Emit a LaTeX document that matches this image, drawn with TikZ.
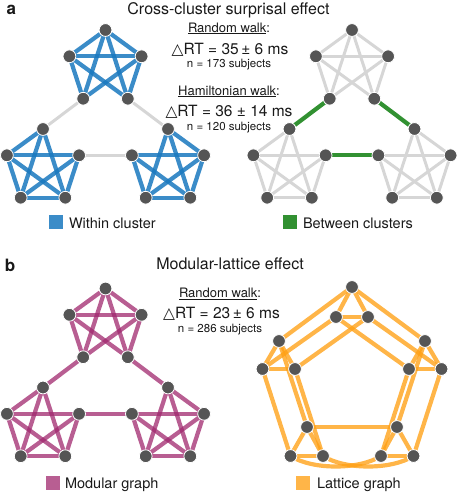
\documentclass[tikz,border=0pt]{standalone}
\usepackage{fontspec}
\setmainfont{TeX Gyre Heros}
\newfontfamily\symfont{DejaVu Sans}
\pgfdeclarelayer{edgelayer}
\pgfsetlayers{edgelayer,main}
\definecolor{cblue}{RGB}{25,120,190}
\definecolor{cgreen}{RGB}{50,145,50}
\definecolor{cgray}{RGB}{214,214,214}
\definecolor{cmag}{RGB}{160,40,110}
\definecolor{corange}{RGB}{255,160,20}
\definecolor{cnode}{RGB}{85,85,85}
\definecolor{ctext}{RGB}{25,25,25}
\newcommand{\fsz}[1]{\fontsize{#1}{#1}\selectfont}
\newcommand{\mkModular}[3]{%
  \node[vtx] (#1T)  at (105.5,30) {};
  \node[vtx] (#1UL) at (69.4,56.3) {};
  \node[vtx] (#1UR) at (141.6,56.3) {};
  \node[vtx] (#1LL) at (83.2,98.7) {};
  \node[vtx] (#1LR) at (127.8,98.7) {};
  \node[vtx] (#1aT)  at (43,129) {};
  \node[vtx] (#1aL)  at (6.9,155.3) {};
  \node[vtx] (#1aR)  at (79.1,155.3) {};
  \node[vtx] (#1aBL) at (20.7,197.7) {};
  \node[vtx] (#1aBR) at (65.3,197.7) {};
  \node[vtx] (#1bT)  at (168,129) {};
  \node[vtx] (#1bL)  at (131.9,155.3) {};
  \node[vtx] (#1bR)  at (204.1,155.3) {};
  \node[vtx] (#1bBL) at (145.7,197.7) {};
  \node[vtx] (#1bBR) at (190.3,197.7) {};
  \begin{pgfonlayer}{edgelayer}
    \foreach \p/\q in {T/UL,T/UR,T/LL,T/LR,UL/UR,UL/LL,UL/LR,UR/LL,UR/LR,
      aT/aL,aT/aBL,aT/aBR,aL/aR,aL/aBL,aL/aBR,aR/aBL,aR/aBR,aBL/aBR,
      bT/bR,bT/bBL,bT/bBR,bL/bR,bL/bBL,bL/bBR,bR/bBL,bR/bBR,bBL/bBR}
      \draw[#2] (#1\p.center) -- (#1\q.center);
    \foreach \p/\q in {LL/aT,LR/bT,aR/bL}
      \draw[#3] (#1\p.center) -- (#1\q.center);
  \end{pgfonlayer}
}
\tikzset{
  vtx/.style={circle,fill=cnode,draw=white,line width=0.8pt,minimum size=12.8pt,inner sep=0pt},
  blueedge/.style={draw=cblue,line width=4.2pt,opacity=.85},
  grayedge/.style={draw=cgray,line width=3pt},
  greenedge/.style={draw=cgreen,line width=4.2pt},
  magedge/.style={draw=cmag,line width=4.2pt,opacity=.75},
  orangeedge/.style={draw=corange,line width=4.2pt,opacity=.78},
  txt/.style={inner sep=0pt,outer sep=0pt,text=ctext,anchor=base},
  legtxt/.style={inner sep=0pt,outer sep=0pt,text=ctext,anchor=base west,font=\fsz{14.5}},
}
\begin{document}
\begin{tikzpicture}[x=1pt,y=-1pt]
\useasboundingbox (0,0) rectangle (457,493);
% ---------- panel a ----------
\node[txt,anchor=base west,font=\bfseries\fsz{17}] (la) at (6.5,14.5) {a};
\node[txt,font=\fsz{16}] (ta) at (228.5,14.5) {Cross-cluster surprisal effect};
\node[txt,font=\fsz{13}] (rw1) at (229,32) {\underline{Random walk}:};
\node[txt,font=\fsz{15.5}] (dr1) at (230,54) {{\symfont △}RT = 35\,±~6 ms};
\node[txt,font=\fsz{11.5}] (n1) at (229,67.5) {n = 173 subjects};
\node[txt,font=\fsz{13}] (hw) at (229,95) {\underline{Hamiltonian walk}:};
\node[txt,font=\fsz{15.5}] (dr2) at (229,116) {{\symfont △}RT = 36 ± 14 ms};
\node[txt,font=\fsz{11.5}] (n2) at (229,130) {n = 120 subjects};

\mkModular{A}{blueedge}{grayedge}
\begin{scope}[shift={(246.5,0)}]
\mkModular{B}{grayedge}{greenedge}
\end{scope}

\fill[cblue,opacity=.85] (49,215) rectangle (63,229);
\node[legtxt] (lw) at (69,228) {Within cluster};
\fill[cgreen] (283,215) rectangle (297,229);
\node[legtxt] (lb) at (303,228) {Between clusters};

% ---------- panel b ----------
\node[txt,anchor=base west,font=\bfseries\fsz{17}] (lbb) at (5,271.5) {b};
\node[txt,font=\fsz{16}] (tb) at (230,269) {Modular-lattice effect};
\node[txt,font=\fsz{13}] (rw3) at (220,297.5) {\underline{Random walk}:};
\node[txt,font=\fsz{15.5}] (dr3) at (221.5,318) {{\symfont △}RT = 23\,±~6 ms};
\node[txt,font=\fsz{11.5}] (n3) at (220,332) {n = 286 subjects};

\begin{scope}[shift={(0,258.5)}]
\mkModular{C}{magedge}{magedge}
\end{scope}

% lattice graph
\node[vtx] (To)  at (352,287) {};
\node[vtx] (Ti1) at (336,317) {};
\node[vtx] (Ti2) at (368,317) {};
\node[vtx] (ULo) at (279,341) {};
\node[vtx] (Lo)  at (262.5,369) {};
\node[vtx] (Li)  at (295,369) {};
\node[vtx] (URo) at (425,341) {};
\node[vtx] (Ro)  at (441.5,369) {};
\node[vtx] (Ri)  at (409,369) {};
\node[vtx] (LLi) at (307,427) {};
\node[vtx] (BLo) at (290.5,456) {};
\node[vtx] (BLi) at (323,456) {};
\node[vtx] (LRi) at (397,427) {};
\node[vtx] (BRi) at (381,456) {};
\node[vtx] (BRo) at (413.5,456) {};
\begin{pgfonlayer}{edgelayer}
\foreach \p/\q in {To/Ti1,To/Ti2,Ti1/Ti2,ULo/Lo,ULo/Li,Lo/Li,URo/Ro,URo/Ri,Ro/Ri,
  LLi/BLo,LLi/BLi,BLo/BLi,LRi/BRi,LRi/BRo,BRi/BRo,
  To/ULo,ULo/LLi,LLi/LRi,LRi/URo,URo/To,
  Ti1/Lo,Lo/BLo,BRi/Ri,Ri/Ti1,
  Ti2/Li,Li/BLi,BRo/Ro,Ro/Ti2}
  \draw[orangeedge] (\p.center) -- (\q.center);
\draw[orangeedge] (BLo.center) .. controls +(22,14) and +(-22,14) .. (BRi.center);
\draw[orangeedge] (BLi.center) .. controls +(22,14) and +(-22,14) .. (BRo.center);
\end{pgfonlayer}

\fill[cmag,opacity=.75] (46,476) rectangle (60,490);
\node[legtxt] (lm) at (65,488) {Modular graph};
\fill[corange,opacity=.78] (296,476) rectangle (310,490);
\node[legtxt] (ll) at (317,488) {Lattice graph};
\end{tikzpicture}
\end{document}
